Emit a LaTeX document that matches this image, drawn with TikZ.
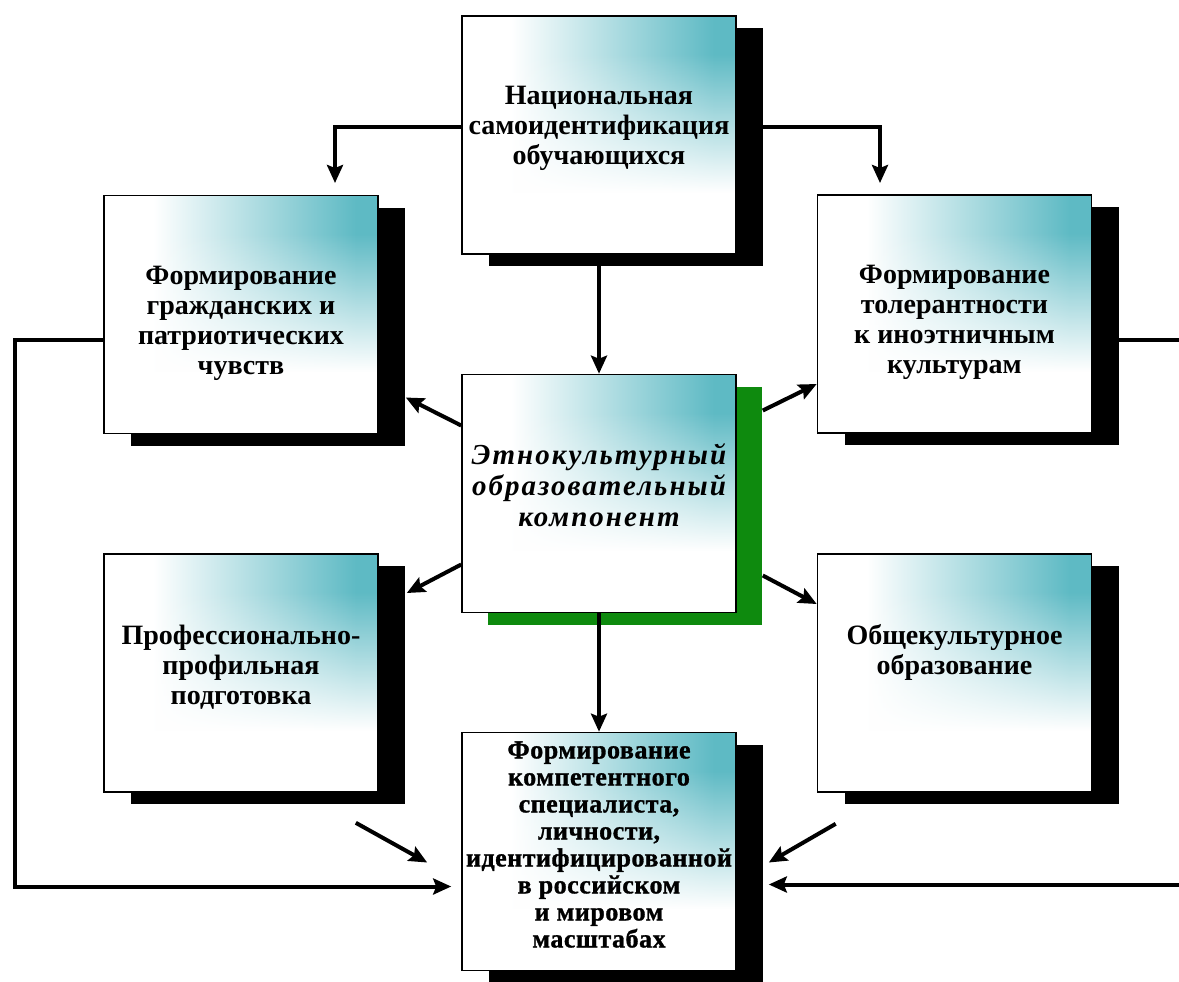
\documentclass[tikz,border=0pt]{standalone}
\usepackage{fontspec}
\setmainfont{Liberation Serif}
\usetikzlibrary{shadows,fadings,calc,arrows.meta}
\definecolor{tealc}{RGB}{94,186,196}
\definecolor{greenc}{RGB}{14,138,14}
% visible range of a 100bp shading fitted to a path is 25bp..75bp
\pgfdeclarehorizontalshading{boxshade}{100bp}{color(0bp)=(white); color(34bp)=(white); color(71bp)=(tealc); color(100bp)=(tealc)}
\pgfdeclareverticalshading{fadeshade}{100bp}{color(0bp)=(black); color(38bp)=(black); color(67bp)=(white); color(100bp)=(white)}
\pgfdeclarefading{fadedown}{\pgfuseshading{fadeshade}}
\tikzset{
  box/.style={draw=black, line width=0.8pt, fill=white, minimum width=137pt, minimum height=119pt, inner sep=0pt,
    path picture={\shade[shading=boxshade, path fading=fadedown] (path picture bounding box.south west) rectangle (path picture bounding box.north east);}},
  bshadow/.style={drop shadow={shadow xshift=13.5pt, shadow yshift=-6pt, fill=black, opacity=1, draw=none}},
  gshadow/.style={drop shadow={shadow xshift=13pt, shadow yshift=-6pt, fill=greenc, opacity=1, draw=none}},
  txt/.style={align=center, font=\fontsize{14}{15}\selectfont\bfseries, inner sep=0pt, anchor=north},
  arr/.style={line width=2pt, -{Stealth[length=9pt,width=8pt,inset=1.5pt]}},
  plain/.style={line width=2pt}
}
\begin{document}
\begin{tikzpicture}[x=0.5pt,y=-0.5pt]
\useasboundingbox (0,0) rectangle (1179,981);
% boxes
\node[box,bshadow] (top) at (599,135) {};
\node[box,gshadow] (cen) at (599,493.5) {};
\node[box,bshadow] (bot) at (599,851.5) {};
\node[box,bshadow] (lt) at (241,314.5) {};
\node[box,bshadow] (rt) at (954.5,314) {};
\node[box,bshadow] (lb) at (241,673) {};
\node[box,bshadow] (rb) at (954.5,673) {};
% texts
\node[txt] (topt) at ($(top.north)+(0,71)$) {Национальная\\самоидентификация\\обучающихся};
\node[txt] (ltt) at ($(lt.north)+(0,71)$) {Формирование\\гражданских и\\патриотических\\чувств};
\node[txt] (rtt) at ($(rt.north)+(0,71)$) {Формирование\\толерантности\\к иноэтничным\\культурам};
\node[txt] (lbt) at ($(lb.north)+(0,71)$) {Профессионально-\\профильная\\подготовка};
\node[txt] (rbt) at ($(rb.north)+(0,71)$) {Общекультурное\\образование};
\node[txt, font=\fontsize{14.5}{15.5}\selectfont\bfseries\itshape\addfontfeature{LetterSpace=7}] (cent) at ($(cen.north)+(0,69)$) {Этнокультурный\\образовательный\\компонент};
\node[txt, anchor=center, font=\fontsize{13}{13.5}\selectfont\bfseries\addfontfeature{FakeBold=1.2,LetterSpace=2}] (bott) at ($(bot.center)+(0,-7)$) {Формирование\\компетентного\\специалиста,\\личности,\\идентифицированной\\в российском\\и мировом\\масштабах};
% coordinates for free ends
\coordinate (a1) at (335,183);
\coordinate (a2) at (880,183);
\coordinate (lcorner) at (15,886.5);
\coordinate (redge1) at (1185,340);
\coordinate (redge2) at (1185,884.5);
% connectors
\draw[arr] ($(top.west)+(0,-8)$) -| (a1);
\draw[arr] ($(top.east)+(0,-8)$) -| (a2);
\draw[arr] (top.south) -- (cen.north);
\draw[arr] (cen.south) -- (bot.north);
\draw[arr] ($(cen.west)+(0,-68)$) -- ($(lt.east)+(27,83)$);
\draw[arr] ($(cen.east)+(26,-83)$) -- ($(rt.west)+(0,70)$);
\draw[arr] ($(cen.west)+(0,71)$) -- ($(lb.east)+(28,-80)$);
\draw[arr] ($(cen.east)+(26,82)$) -- ($(rb.west)+(0,-69)$);
\draw[arr] ($(lb.south east)+(-23,30)$) -- ($(bot.west)+(-34,11)$);
\draw[arr] ($(rb.south west)+(19,31)$) -- ($(bot.east)+(32,11)$);
\draw[arr] ($(lt.west)+(0,25)$) -| (lcorner) -- ($(bot.west)+(-10,35)$);
\draw[plain] ($(rt.east)+(26,26)$) -- (redge1);
\draw[arr] (redge2) -- ($(bot.east)+(32,33)$);
\end{tikzpicture}
\end{document}
